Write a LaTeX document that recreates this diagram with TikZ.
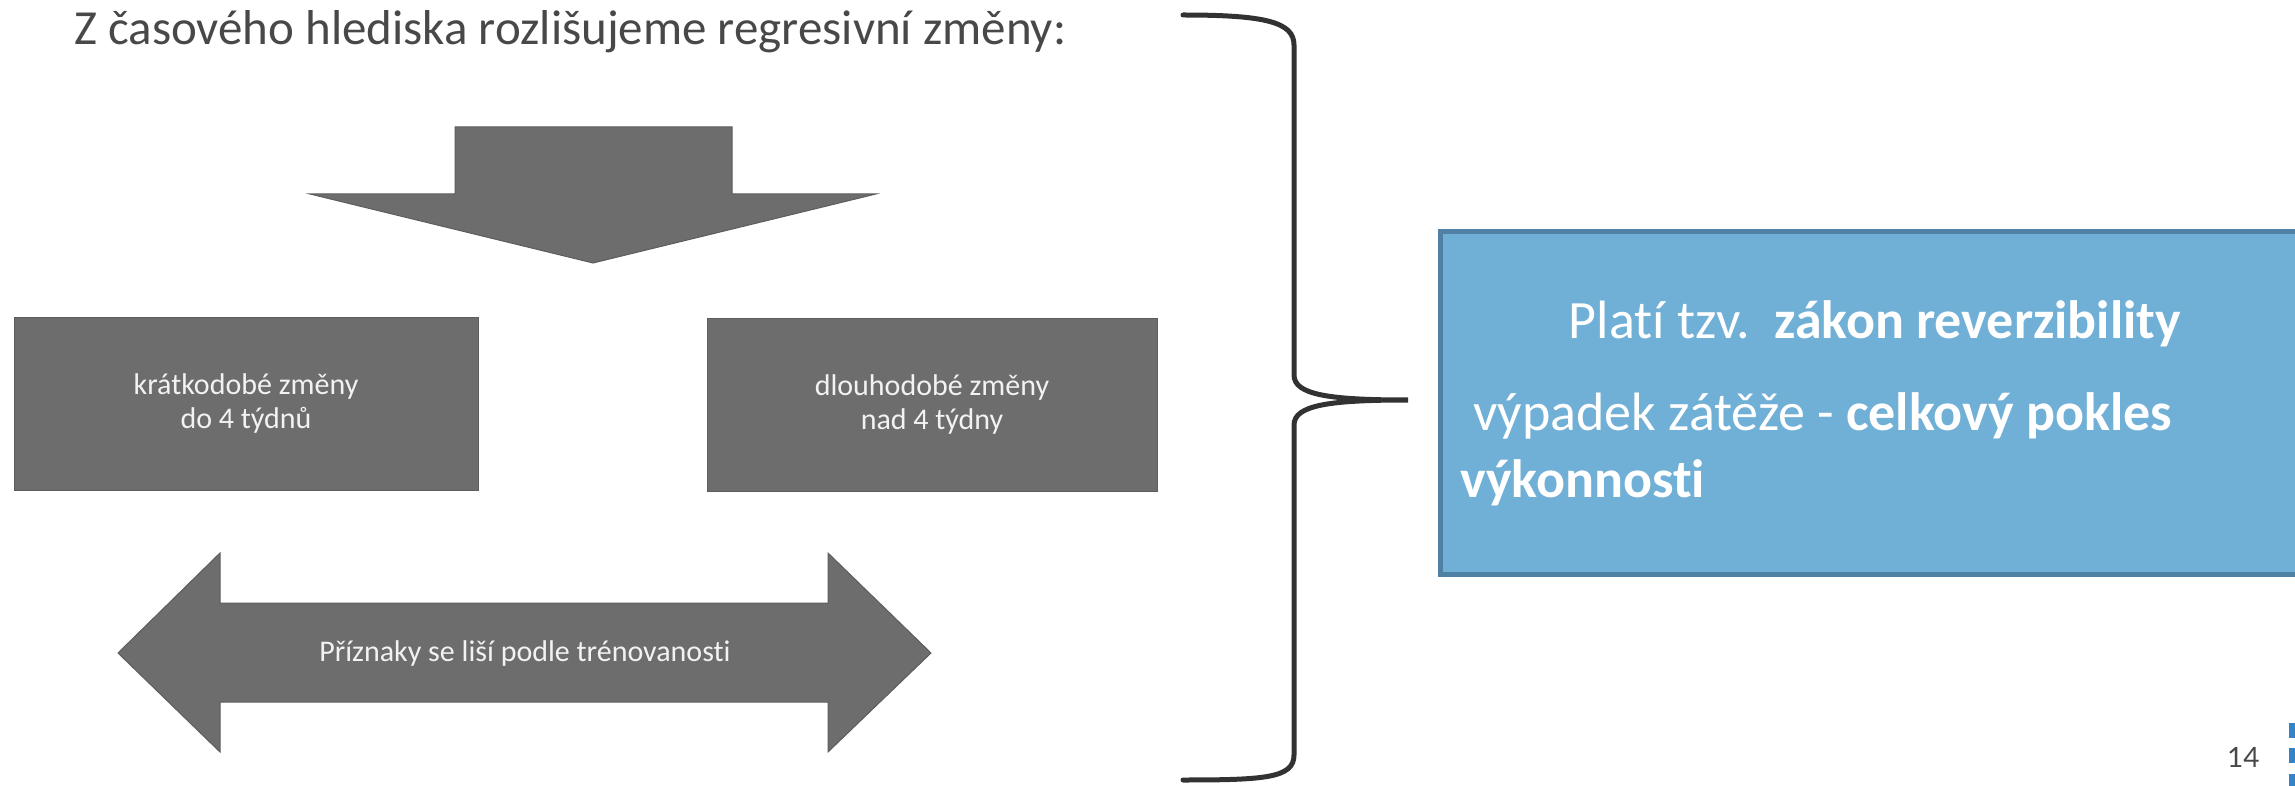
\documentclass[tikz,border=0pt]{standalone}
\usepackage{fontspec}
\setmainfont{Carlito}[Ligatures=NoCommon]
\newfontfamily\numfont{Lato}
\definecolor{shapegrey}{RGB}{109,109,109}
\definecolor{boxtext}{RGB}{242,242,242}
\definecolor{titlegrey}{RGB}{72,72,72}
\definecolor{bracegrey}{RGB}{50,50,50}
\definecolor{boxblue}{RGB}{112,175,214}
\definecolor{boxblueedge}{RGB}{80,128,164}
\definecolor{squareblue}{RGB}{53,132,201}

\begin{document}
\begin{tikzpicture}[
x=1pt,
y=-1pt,
greyshape/.style={fill=shapegrey, draw=shapegrey!85!black, line width=1pt},
greybox/.style={rectangle, greyshape, minimum width=464pt, minimum height=172pt, align=center, text=boxtext, font=\fontsize{30}{34}\selectfont},
bluetext/.style={inner sep=0pt, text=white, font=\fontsize{54}{60}\selectfont},
]
\useasboundingbox (0,0) rectangle (2295,786);
\clip (0,0) rectangle (2295,786);
\node[anchor=base west, inner sep=0pt, text=titlegrey, font=\fontsize{49}{56}\selectfont] (titel) at (74,45) {Z časového hlediska rozlišujeme regresivní změny:};
\draw[greyshape] (455,127) -- (732,127) -- (732,194) -- (876,194) -- (593,263) -- (310,194) -- (455,194) -- cycle;
\node[greybox] (kratko) at (246,404) {krátkodobé změny\\do 4 týdnů};
\node[greybox, minimum width=450pt] (dlouho) at (932,405) {dlouhodobé změny\\nad 4 týdny};
\draw[greyshape] (118,653) -- (220,553) -- (220,603) -- (828,603) -- (828,553) -- (931,653) -- (828,752) -- (828,702) -- (220,702) -- (220,752) -- cycle;
\node[text=boxtext, font=\fontsize{30}{34}\selectfont] (priznaky) at (525,653) {Příznaky se liší podle trénovanosti};
\coordinate (hrot) at (1408,400);
\draw[line width=5pt, bracegrey, line cap=round] (1183,15) .. controls (1265,15) and (1294,22) .. (1294,45) -- (1294,375) .. controls (1294,395) and (1330,400) .. (hrot) .. controls (1330,400) and (1294,405) .. (1294,425) -- (1294,755) .. controls (1294,778) and (1265,780) .. (1183,780);
\node[rectangle, fill=boxblue, draw=boxblueedge, line width=5pt, minimum width=900pt, minimum height=343pt, anchor=north west] (zakon) at (1438,229) {};
\node[bluetext, anchor=base] (plati) at (1875,339) {Platí tzv.\ \ \textbf{zákon reverzibility}};
\node[bluetext, anchor=base west] (vypadek) at (1473,430) {výpadek zátěže - \textbf{celkový pokles}};
\node[bluetext, anchor=base west] (vykon) at (1460,497) {\textbf{výkonnosti}};
\node[anchor=base west, inner sep=0pt, text=titlegrey, font=\numfont\fontsize{28}{30}\selectfont] (strana) at (2227,767) {14};
\foreach \y in {723,748,774}
{
 \fill[squareblue] (2289,\y) rectangle (2300,\y+15);
}
\end{tikzpicture}
\end{document}
